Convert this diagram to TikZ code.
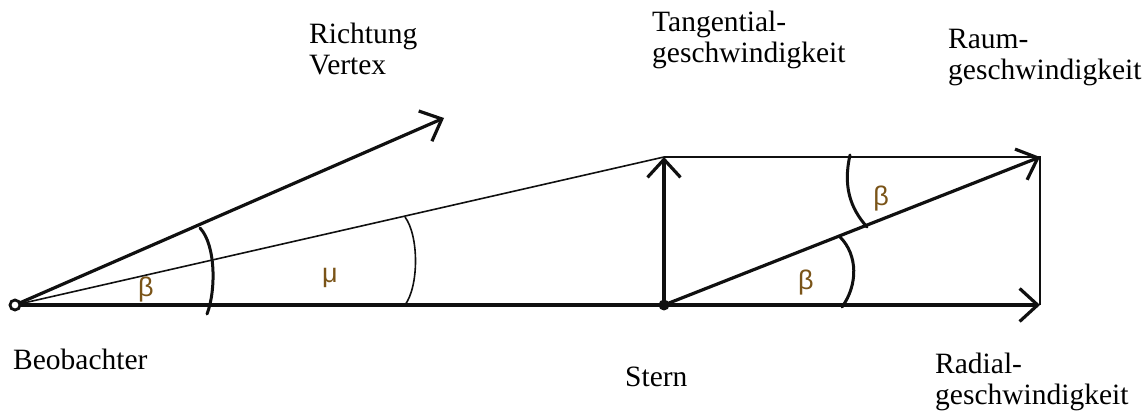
\documentclass[tikz,border=0pt]{standalone}
\usepackage{fontspec}
\setmainfont{Liberation Serif}
\newfontfamily\greekfont{Liberation Sans}
\usepackage{xcolor}
\usepackage{tikz}
\usetikzlibrary{arrows.meta}
\definecolor{InkBlack}{HTML}{101010}
\definecolor{GreekInk}{HTML}{7A5418}

\begin{document}
\begin{tikzpicture}[x=1pt, y=1pt, >={Straight Barb[length=18pt,width=33pt]},
    vec/.style={InkBlack, line width=3.2pt, line cap=round, line join=round},
    helper/.style={InkBlack, line width=1.6pt},
    anglemark/.style={InkBlack, line width=3pt, line cap=round},
    label/.style={anchor=base west, inner sep=0pt, align=left,
      font=\fontsize{29.5}{31}\selectfont},
    greek/.style={inner sep=0pt, text=GreekInk,
      font=\greekfont\fontsize{27}{29}\selectfont}]
    \useasboundingbox (0,0) rectangle (1147,411);
    % points of the velocity diagram
    \coordinate (beob) at (15,106);
    \coordinate (stern) at (664,106);
    \coordinate (tang) at (664,254);
    \coordinate (raum) at (1040,254);
    \coordinate (radial) at (1040,106);
    \coordinate (vertex) at (444,293);
    \draw[vec,->] (beob) -- (radial);
    \draw[helper] (beob) -- (tang);
    \draw[vec,->] (beob) -- (vertex);
    \draw[vec,->] (stern) -- (tang);
    \draw[helper] (tang) -- (raum) -- (radial);
    \draw[vec,->] (stern) -- (raum);
    \draw[InkBlack, line width=2.8pt, fill=white] (beob) circle (5);
    \fill[InkBlack] (stern) circle (5.5);
    % angle marks
    \draw[anglemark] (200,183) .. controls (216,166) and (216,120) .. (207,97);
    \draw[helper] (405,194) .. controls (419,175) and (419,125) .. (405,106);
    \draw[anglemark] (850,256) .. controls (843,225) and (850,203) .. (867,184);
    \draw[anglemark] (840,174) .. controls (858,156) and (858,126) .. (842,104);
    \node[greek] (betaA) at (146,121) {β};
    \node[greek] (mu) at (330,133) {μ};
    \node[greek] (betaB) at (881,212) {β};
    \node[greek] (betaC) at (806,128) {β};
    % labels
    \node[label] (richtung) at (309,336) {Richtung\\Vertex};
    \node[label] (tanglabel) at (652,348) {Tangential-\\geschwindigkeit};
    \node[label] (raumlabel) at (948,331) {Raum-\\geschwindigkeit};
    \node[label] (beoblabel) at (13,41) {Beobachter};
    \node[label] (sternlabel) at (625,24) {Stern};
    \node[label] (radlabel) at (935,6) {Radial-\\geschwindigkeit};
  \end{tikzpicture}
\end{document}
